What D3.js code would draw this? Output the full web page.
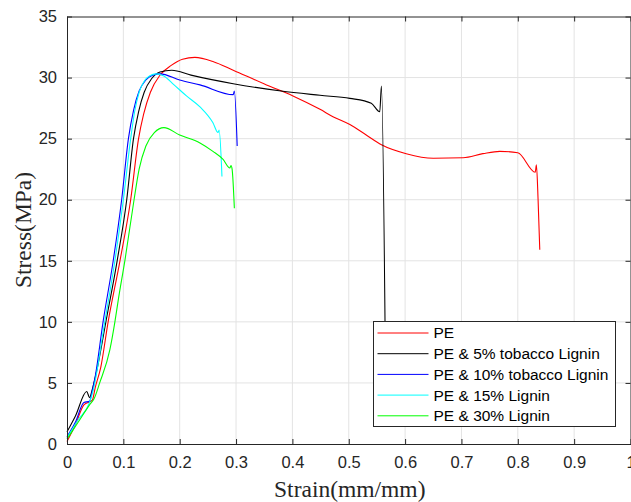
<!DOCTYPE html>
<html>
<head>
<meta charset="utf-8">
<script src="https://d3js.org/d3.v7.min.js"></script>
<style>
  body { margin: 0; background: #fff; }
  svg { display: block; }
</style>
</head>
<body>
<svg id="chart"></svg>
<script>
//-------------data-------------
var seriesNames = ["PE", "PE & 5% tobacco Lignin", "PE & 10% tobacco Lignin", "PE & 15% Lignin", "PE & 30% Lignin"];
var seriesColors = ["#ff0000", "#000000", "#0000ff", "#00ffff", "#00ff00"];

var xTicks = [0, 0.1, 0.2, 0.3, 0.4, 0.5, 0.6, 0.7, 0.8, 0.9, 1];
var yTicks = [0, 5, 10, 15, 20, 25, 30, 35];

// [strain, stress]
var pe = [[0,0.2],[0.015,1.6],[0.03,3.2],[0.045,3.6],[0.05,4.6],[0.06,6.3],[0.073,10],[0.094,15],[0.113,20],[0.127,25],
  [0.136,27],[0.148,28.8],[0.165,30.2],[0.185,31],[0.205,31.5],[0.227,31.65],[0.26,31.3],[0.295,30.6],[0.354,29.4],
  [0.401,28.5],[0.449,27.4],[0.472,26.8],[0.502,26.15],[0.531,25.3],[0.558,24.5],[0.602,23.77],[0.65,23.4],
  [0.703,23.44],[0.738,23.77],[0.768,23.96],[0.8,23.85],[0.831,22.25],[0.833,22.85],[0.836,20],[0.839,15.9]];

var pe5 = [[0,1.0],[0.015,2.3],[0.035,4.3],[0.04,3.8],[0.045,4.5],[0.055,6.5],[0.069,10],[0.089,15],[0.106,20],
  [0.118,25],[0.127,27.2],[0.137,28.8],[0.15,29.9],[0.165,30.45],[0.186,30.6],[0.22,30.2],[0.295,29.5],[0.38,28.9],
  [0.449,28.55],[0.502,28.3],[0.54,27.9],[0.555,27.2],[0.558,29.3],[0.566,2]];

var pe10 = [[0,0.6],[0.015,1.8],[0.03,3.4],[0.04,3.5],[0.045,4.4],[0.05,5.5],[0.064,10],[0.082,15],[0.097,20],
  [0.109,25],[0.118,27.3],[0.128,28.9],[0.14,29.8],[0.152,30.2],[0.165,30.3],[0.2,29.8],[0.236,29.4],[0.295,28.6],
  [0.297,28.9],[0.302,24.4]];

var pe15 = [[0,0.5],[0.02,2.0],[0.04,3.4],[0.047,4.5],[0.067,10],[0.085,15],[0.1,20],[0.113,25],[0.12,27.2],
  [0.128,28.8],[0.137,29.7],[0.147,30.15],[0.158,30.3],[0.171,30.15],[0.19,29.4],[0.212,28.5],[0.236,27.6],
  [0.259,26.3],[0.268,25.5],[0.27,25.7],[0.275,21.9]];

var pe30 = [[0,0.4],[0.02,1.8],[0.04,3.2],[0.048,3.7],[0.058,5],[0.076,7.7],[0.085,10],[0.091,11.8],[0.103,15.1],
  [0.119,20],[0.128,22.5],[0.14,24.4],[0.155,25.5],[0.172,25.9],[0.2,25.3],[0.236,24.65],[0.259,23.96],
  [0.277,23.3],[0.289,22.6],[0.291,22.8],[0.293,22.5],[0.297,19.3]];

var allSeries = [pe, pe5, pe10, pe15, pe30];

//-------------layout-------------
var width = 631, height = 502;
var plot = {left: 67, right: 630.5, top: 16.5, bottom: 444};
var axisColor = "#262626";

var svg = d3.select("#chart")
  .attr("width", width)
  .attr("height", height);

var x = d3.scaleLinear().domain([0, 1]).range([plot.left, plot.right]);
var y = d3.scaleLinear().domain([0, 35]).range([plot.bottom, plot.top]);

//-------------grid-------------
svg.append("g")
  .selectAll("line")
  .data(xTicks.slice(1, -1))
  .enter().append("line")
  .attr("x1", d => x(d)).attr("x2", d => x(d))
  .attr("y1", plot.top).attr("y2", plot.bottom)
  .style("stroke", "#e3e3e3").style("stroke-width", 1);

svg.append("g")
  .selectAll("line")
  .data(yTicks.slice(1, -1))
  .enter().append("line")
  .attr("y1", d => y(d)).attr("y2", d => y(d))
  .attr("x1", plot.left).attr("x2", plot.right)
  .style("stroke", "#e3e3e3").style("stroke-width", 1);

//-------------curves-------------
var line = d3.line()
  .x(d => x(d[0]))
  .y(d => y(d[1]))
  .curve(d3.curveMonotoneX);

svg.append("g")
  .selectAll("path")
  .data(allSeries)
  .enter().append("path")
  .attr("d", line)
  .style("fill", "none")
  .style("stroke", (d, i) => seriesColors[i])
  .style("stroke-width", 1.1);

//-------------axes (matlab style, ticks inside, box on)-------------
var tickLen = 5;
var axisFont = "'Liberation Sans', Arial, sans-serif";

// x axis bottom + top mirror
var xBottom = svg.append("g")
  .attr("transform", "translate(0," + plot.bottom + ")")
  .call(d3.axisBottom(x).tickValues(xTicks).tickSizeInner(-tickLen).tickSizeOuter(0).tickPadding(12)
    .tickFormat(d3.format("")));
var xTop = svg.append("g")
  .attr("transform", "translate(0," + plot.top + ")")
  .call(d3.axisTop(x).tickValues(xTicks).tickSizeInner(-tickLen).tickSizeOuter(0).tickFormat(""));

// y axis left + right mirror
var yLeft = svg.append("g")
  .attr("transform", "translate(" + plot.left + ",0)")
  .call(d3.axisLeft(y).tickValues(yTicks).tickSizeInner(-tickLen).tickSizeOuter(0).tickPadding(10));
var yRight = svg.append("g")
  .attr("transform", "translate(" + plot.right + ",0)")
  .call(d3.axisRight(y).tickValues(yTicks).tickSizeInner(-tickLen).tickSizeOuter(0).tickFormat(""));

[xBottom, xTop, yLeft, yRight].forEach(function(g) {
  g.select(".domain").style("stroke", axisColor).style("stroke-width", 1);
  g.selectAll(".tick line").style("stroke", axisColor);
  g.selectAll("text")
    .style("font-family", axisFont)
    .style("font-size", "16.5px")
    .style("fill", axisColor);
});

// axis titles
svg.append("text")
  .attr("x", (plot.left + plot.right) / 2 + 1)
  .attr("y", 497)
  .style("text-anchor", "middle")
  .style("font-family", "'Liberation Serif', 'Times New Roman', serif")
  .style("font-size", "23.5px")
  .style("fill", axisColor)
  .text("Strain(mm/mm)");

svg.append("text")
  .attr("transform", "translate(31," + 230 + ") rotate(-90)")
  .style("text-anchor", "middle")
  .style("font-family", "'Liberation Serif', 'Times New Roman', serif")
  .style("font-size", "23.5px")
  .style("fill", axisColor)
  .text("Stress(MPa)");

//-------------legend-------------
var legend = svg.append("g").attr("transform", "translate(373.5,321.5)");

legend.append("rect")
  .attr("width", 242)
  .attr("height", 105)
  .style("fill", "#fff")
  .style("stroke", axisColor)
  .style("stroke-width", 1);

var item = legend.selectAll(".item")
  .data(seriesNames)
  .enter().append("g")
  .attr("class", "item")
  .attr("transform", (d, i) => "translate(0," + (11.5 + i * 20.7) + ")");

item.append("line")
  .attr("x1", 4).attr("x2", 55)
  .style("stroke", (d, i) => seriesColors[i])
  .style("stroke-width", 1);

item.append("text")
  .attr("x", 60)
  .attr("dy", "0.35em")
  .style("font-family", axisFont)
  .style("font-size", "15.5px")
  .style("fill", "#000")
  .text(d => d);
</script>
</body>
</html>
